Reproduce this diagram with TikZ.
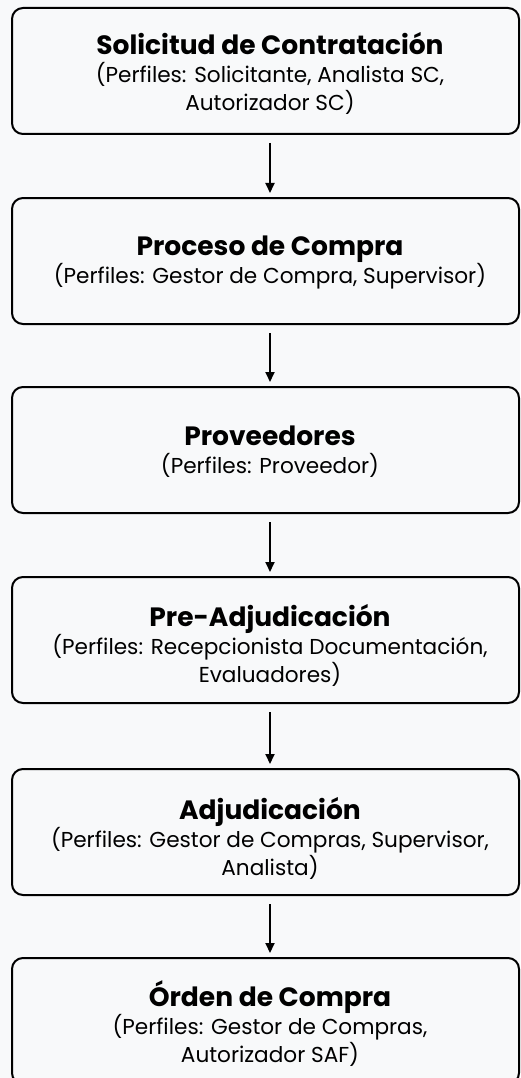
\documentclass[tikz,border=0pt]{standalone}
\usepackage{fontspec}
\setmainfont{Poppins}
\usetikzlibrary{arrows.meta}
\definecolor{bg}{HTML}{F8F9FA}
\tikzset{
  stage/.style={draw=black, line width=2pt, rounded corners=11pt, fill=bg,
    minimum width=507pt, minimum height=126pt, inner sep=0pt},
  stagetext/.style={align=center, font=\fontsize{21.6}{28}\selectfont, inner sep=0pt},
  flow/.style={line width=1.8pt, -{Triangle[length=10pt,width=9pt]}, shorten <=8pt, shorten >=4pt},
}
\newcommand{\ttl}[1]{{\fontsize{26.5}{28}\selectfont\bfseries #1}}
\begin{document}
\begin{tikzpicture}[x=1pt,y=-1pt]
\fill[bg] (0,0) rectangle (520,1078);
\useasboundingbox (0,0) rectangle (520,1078);
\node[stage] (b1) at (265.5,71) {};
\node[stage] (b2) at (265.5,261) {};
\node[stage] (b3) at (265.5,450) {};
\node[stage] (b4) at (265.5,640) {};
\node[stage] (b5) at (265.5,832) {};
\node[stage] (b6) at (265.5,1021) {};
\node[stagetext] (t1) at (270,73) {\ttl{Solicitud de Contratación}\\(Perfiles: Solicitante, Analista SC,\\Autorizador SC)};
\node[stagetext] (t2) at (270,263) {\ttl{Proceso de Compra}\\(Perfiles: Gestor de Compra, Supervisor)};
\node[stagetext] (t3) at (270,452) {\ttl{Proveedores}\\(Perfiles: Proveedor)};
\node[stagetext] (t4) at (270,645) {\ttl{Pre-Adjudicación}\\(Perfiles: Recepcionista Documentación,\\Evaluadores)};
\node[stagetext] (t5) at (270,838) {\ttl{Adjudicación}\\(Perfiles: Gestor de Compras, Supervisor,\\Analista)};
\node[stagetext] (t6) at (270,1024) {\ttl{Órden de Compra}\\(Perfiles: Gestor de Compras,\\Autorizador SAF)};
\draw[flow] (b1.south -| t1) -- (b2.north -| t1);
\draw[flow] (b2.south -| t1) -- (b3.north -| t1);
\draw[flow] (b3.south -| t1) -- (b4.north -| t1);
\draw[flow] (b4.south -| t1) -- (b5.north -| t1);
\draw[flow] (b5.south -| t1) -- (b6.north -| t1);
\end{tikzpicture}
\end{document}
